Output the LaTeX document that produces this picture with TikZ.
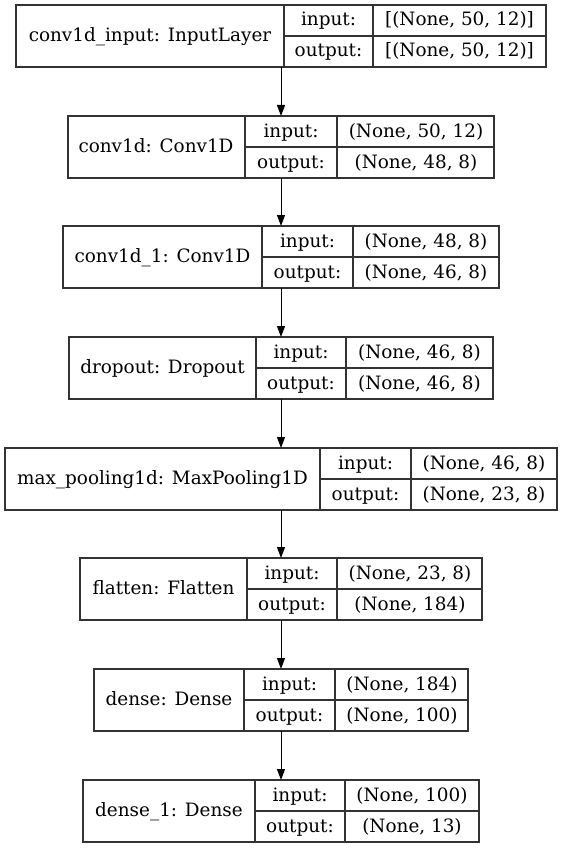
\documentclass[tikz,border=0pt]{standalone}
\usepackage{fontspec}
\setmainfont{DejaVu Serif}
\usetikzlibrary{arrows.meta}

\begin{document}
\begin{tikzpicture}[
  x=1pt, y=-1pt,
  layer/.style={draw=black!80, line width=1.4pt, rectangle, minimum height=62pt,
    inner sep=0pt, outer sep=0pt},
  grid/.style={draw=black!80, line width=1.4pt},
  txt/.style={inner sep=0pt, anchor=base, yshift=-5.5pt, font=\fontsize{18.4}{22}\selectfont},
  arr/.style={-{Triangle[length=11pt, width=8pt]}, line width=1pt, black},
]
\useasboundingbox (0,0) rectangle (563,848);

% conv1d_input
\node[layer, minimum width=530pt] (inp) at (281,36) {};
\node[txt] (inp-name) at (150,36) {conv1d\_input: InputLayer};
\node[txt] (inp-in) at (328.5,20.5) {input:};
\node[txt] (inp-out) at (328.5,51.5) {output:};
\node[txt] (inp-inv) at (459.5,20.5) {[(None, 50, 12)]};
\node[txt] (inp-outv) at (459.5,51.5) {[(None, 50, 12)]};
\draw[grid] (284,5) -- (284,67) (373,5) -- (373,67) (284,36) -- (546,36);

% conv1d
\node[layer, minimum width=426pt] (conv) at (281,147) {};
\node[txt] (conv-name) at (156,147) {conv1d: Conv1D};
\node[txt] (conv-in) at (291,131.5) {input:};
\node[txt] (conv-out) at (291,162.5) {output:};
\node[txt] (conv-inv) at (416,131.5) {(None, 50, 12)};
\node[txt] (conv-outv) at (416,162.5) {(None, 48, 8)};
\draw[grid] (245,116) -- (245,178) (337,116) -- (337,178) (245,147) -- (494,147);

% conv1d_1
\node[layer, minimum width=436pt] (convb) at (281,257) {};
\node[txt] (convb-name) at (162.5,257) {conv1d\_1: Conv1D};
\node[txt] (convb-in) at (307.5,241.5) {input:};
\node[txt] (convb-out) at (307.5,272.5) {output:};
\node[txt] (convb-inv) at (426,241.5) {(None, 48, 8)};
\node[txt] (convb-outv) at (426,272.5) {(None, 46, 8)};
\draw[grid] (262,226) -- (262,288) (353,226) -- (353,288) (262,257) -- (499,257);

% dropout
\node[layer, minimum width=424pt] (drop) at (281,368) {};
\node[txt] (drop-name) at (162.5,368) {dropout: Dropout};
\node[txt] (drop-in) at (301,352.5) {input:};
\node[txt] (drop-out) at (301,383.5) {output:};
\node[txt] (drop-inv) at (419.5,352.5) {(None, 46, 8)};
\node[txt] (drop-outv) at (419.5,383.5) {(None, 46, 8)};
\draw[grid] (256,337) -- (256,399) (346,337) -- (346,399) (256,368) -- (493,368);

% max_pooling1d
\node[layer, minimum width=552pt] (pool) at (281,479) {};
\node[txt] (pool-name) at (162.5,479) {max\_pooling1d: MaxPooling1D};
\node[txt] (pool-in) at (365.5,463.5) {input:};
\node[txt] (pool-out) at (365.5,494.5) {output:};
\node[txt] (pool-inv) at (484,463.5) {(None, 46, 8)};
\node[txt] (pool-outv) at (484,494.5) {(None, 23, 8)};
\draw[grid] (320,448) -- (320,510) (411,448) -- (411,510) (320,479) -- (557,479);

% flatten
\node[layer, minimum width=402pt] (flat) at (281,589) {};
\node[txt] (flat-name) at (163.5,589) {flatten: Flatten};
\node[txt] (flat-in) at (292,573.5) {input:};
\node[txt] (flat-out) at (292,604.5) {output:};
\node[txt] (flat-inv) at (410,573.5) {(None, 23, 8)};
\node[txt] (flat-outv) at (410,604.5) {(None, 184)};
\draw[grid] (247,558) -- (247,620) (337,558) -- (337,620) (247,589) -- (482,589);

% dense
\node[layer, minimum width=374pt] (dense) at (281,700) {};
\node[txt] (dense-name) at (169,700) {dense: Dense};
\node[txt] (dense-in) at (289.5,684.5) {input:};
\node[txt] (dense-out) at (289.5,715.5) {output:};
\node[txt] (dense-inv) at (402,684.5) {(None, 184)};
\node[txt] (dense-outv) at (402,715.5) {(None, 100)};
\draw[grid] (244,669) -- (244,731) (335,669) -- (335,731) (244,700) -- (468,700);

% dense_1
\node[layer, minimum width=396pt] (denseb) at (281,811) {};
\node[txt] (denseb-name) at (169,811) {dense\_1: Dense};
\node[txt] (denseb-in) at (300,795.5) {input:};
\node[txt] (denseb-out) at (300,826.5) {output:};
\node[txt] (denseb-inv) at (412,795.5) {(None, 100)};
\node[txt] (denseb-outv) at (412,826.5) {(None, 13)};
\draw[grid] (255,780) -- (255,842) (345,780) -- (345,842) (255,811) -- (479,811);

\draw[arr] (inp) -- (conv);
\draw[arr] (conv) -- (convb);
\draw[arr] (convb) -- (drop);
\draw[arr] (drop) -- (pool);
\draw[arr] (pool) -- (flat);
\draw[arr] (flat) -- (dense);
\draw[arr] (dense) -- (denseb);

\end{tikzpicture}
\end{document}
